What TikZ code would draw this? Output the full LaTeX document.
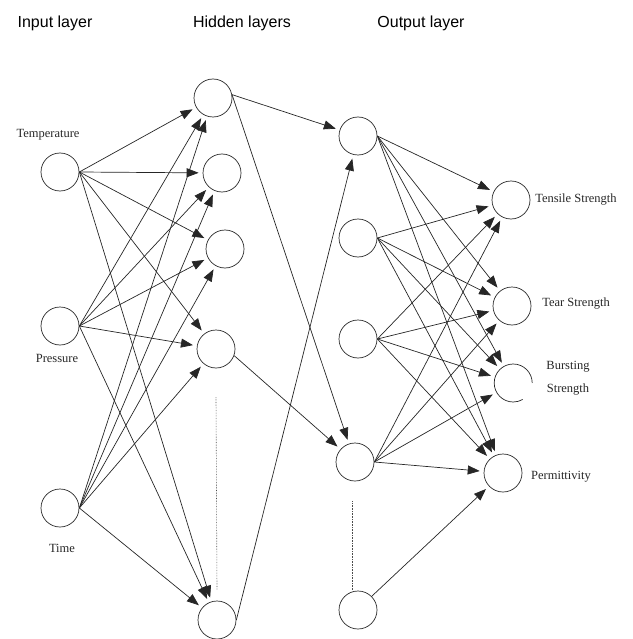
\documentclass[tikz,border=0pt]{standalone}
\usepackage{fontspec}
\setmainfont{Liberation Serif}
\newfontfamily\titlefont{Liberation Sans}
\usetikzlibrary{arrows.meta}

\begin{document}
\begin{tikzpicture}[
  x=1pt, y=-1pt,
  neuron/.style  = {draw, circle, minimum size=38pt, inner sep=0pt,
                    line width=0.7pt, color=black!85},
  ghost/.style   = {circle, minimum size=38pt, inner sep=0pt},
  layertitle/.style = {font=\titlefont\fontsize{16}{18}\selectfont},
  tag/.style     = {font=\fontsize{12.5}{14}\selectfont, text=black!85},
  arrow/.style   = {-{Triangle[length=12pt,width=9pt]}, line width=0.7pt,
                    color=black!85, shorten >=4pt},
  link/.style    = {line width=0.7pt, color=black!85},
  gap/.style     = {densely dotted, line width=0.6pt, color=black!70}
]
  \path[use as bounding box] (0,0) rectangle (632,639);

  % Layer titles
  \node[layertitle] (tin)  at (55,23)  {Input layer};
  \node[layertitle] (thid) at (242,23) {Hidden layers};
  \node[layertitle] (tout) at (421,23) {Output layer};

  % Input layer
  \node[neuron] (temp) at (60,172) {};
  \node[neuron] (pres) at (60,326) {};
  \node[neuron] (time) at (60,508) {};
  \node[tag] (ltemp) at (48,135) {Temperature};
  \node[tag] (lpres) at (57,358) {Pressure};
  \node[tag] (ltime) at (62,548) {Time};

  % First hidden layer
  \node[neuron] (ha) at (213,98)  {};
  \node[neuron] (hb) at (222,173) {};
  \node[neuron] (hc) at (225,249) {};
  \node[neuron] (hd) at (216,349) {};
  \node[neuron] (he) at (217,620) {};

  % Second hidden layer
  \node[neuron] (ka) at (358,136) {};
  \node[neuron] (kb) at (358,238) {};
  \node[neuron] (kc) at (358,339) {};
  \node[neuron] (kd) at (355,462) {};
  \node[neuron] (ke) at (358,610) {};

  % Output layer
  \node[neuron] (ts) at (511,200) {};
  \node[neuron] (tr) at (512,306) {};
  \node[ghost]  (bs) at (513,383) {};
  \node[neuron] (pm) at (503,473) {};
  \draw[link] (bs.0) arc[start angle=0, end angle=-300, radius=19];
  \node[tag] (lts) at (576,200) {Tensile Strength};
  \node[tag] (ltr) at (576,304) {Tear Strength};
  \node[tag] (lbs) at (568,367) {Bursting};
  \node[tag] (lbt) at (568,390) {Strength};
  \node[tag] (lpm) at (561,477) {Permittivity};

  % Omitted neurons
  \draw[gap] ([yshift=-29pt]hd.south) -- ([yshift=11pt]he.north);
  \draw[gap] ([xshift=-3pt,yshift=-20pt]kd.south) -- ([xshift=-6pt]ke.north);

  % Input -> first hidden layer
  \draw[arrow] (temp.east) -- (ha);
  \draw[arrow] (temp.east) -- (hb);
  \draw[arrow] (temp.east) -- (hc);
  \draw[arrow] (temp.east) -- (hd);
  \draw[arrow] (temp.east) -- (he);
  \draw[arrow] (pres.east) -- (ha);
  \draw[arrow] (pres.east) -- (hb);
  \draw[arrow] (pres.east) -- (hc);
  \draw[arrow] (pres.east) -- (hd);
  \draw[arrow] (pres.east) -- (he);
  \draw[arrow] (time.east) -- (ha);
  \draw[arrow] (time.east) -- (hb);
  \draw[arrow] (time.east) -- (hc);
  \draw[arrow] (time.east) -- (hd);
  \draw[arrow] (time.east) -- (he);

  % First -> second hidden layer
  \draw[arrow] (ha.10)  -- (ka);
  \draw[arrow] (ha.10)  -- (kd);
  \draw[arrow] (hd.-20) -- (kd);
  \draw[arrow] (he.east) -- (ka);

  % Second hidden layer -> output
  \draw[arrow] (ka.east) -- (ts);
  \draw[arrow] (ka.east) -- (tr);
  \draw[arrow] (ka.east) -- (bs);
  \draw[arrow] (ka.east) -- (pm);
  \draw[arrow] (kb.east) -- (ts);
  \draw[arrow] (kb.east) -- (tr);
  \draw[arrow] (kb.east) -- (bs);
  \draw[arrow] (kb.east) -- (pm);
  \draw[arrow] (kc.east) -- (ts);
  \draw[arrow] (kc.east) -- (tr);
  \draw[arrow] (kc.east) -- (bs);
  \draw[arrow] (kc.east) -- (pm);
  \draw[arrow] (kd.east) -- (ts);
  \draw[arrow] (kd.east) -- (tr);
  \draw[arrow] (kd.east) -- (bs);
  \draw[arrow] (kd.east) -- (pm);
  \draw[arrow] (ke.45)   -- (pm);

\end{tikzpicture}
\end{document}
